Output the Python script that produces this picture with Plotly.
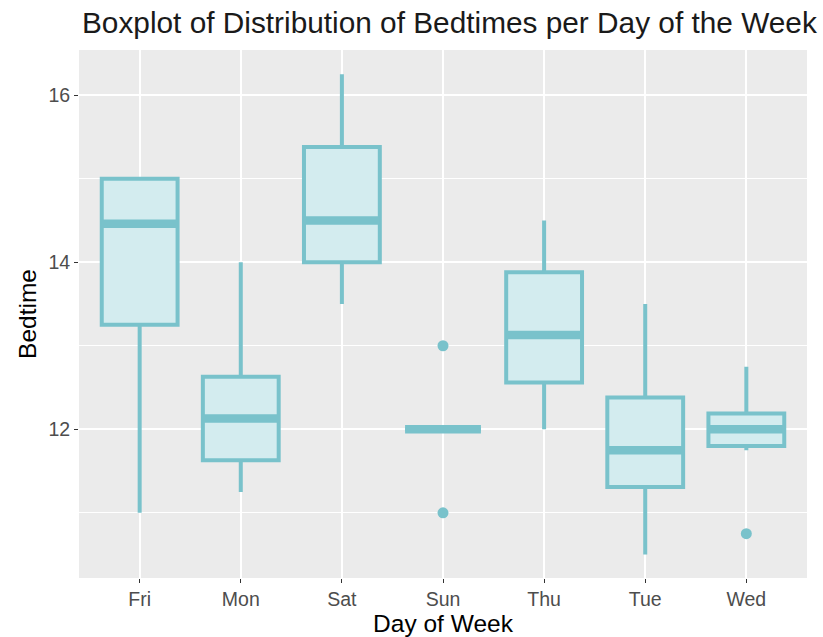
import plotly.graph_objects as go

days = ["Fri", "Mon", "Sat", "Sun", "Thu", "Tue", "Wed"]
lower_whisker = [11.0, 11.25, 13.5, 12.0, 12.0, 10.5, 11.75]
q1 = [13.25, 11.63, 14.0, 12.0, 12.56, 11.31, 11.8]
median = [14.46, 12.13, 14.5, 12.0, 13.13, 11.75, 12.0]
q3 = [15.0, 12.63, 15.38, 12.0, 13.88, 12.38, 12.19]
upper_whisker = [15.0, 14.0, 16.25, 12.0, 14.5, 13.5, 12.75]
outlier_day = ["Sun", "Sun", "Wed"]
outlier_val = [13.0, 11.0, 10.75]

LINE = "#79C2CB"
FILL = "#D3ECEF"
BOXW = 0.75

fig = go.Figure()
pos = list(range(len(days)))
fig.add_trace(go.Box(
    x=pos, q1=q1, median=median, q3=q3,
    lowerfence=lower_whisker, upperfence=upper_whisker,
    width=BOXW, fillcolor=FILL, line=dict(color=LINE, width=4),
    whiskerwidth=0, boxpoints=False, showlegend=False, hoverinfo="skip",
))
# thick median bars (ggplot style)
mx, my = [], []
for i, m in enumerate(median):
    mx += [i - BOXW / 2, i + BOXW / 2, None]
    my += [m, m, None]
fig.add_trace(go.Scatter(x=mx, y=my, mode="lines",
                         line=dict(color=LINE, width=8.5), showlegend=False,
                         hoverinfo="skip"))
fig.add_trace(go.Scatter(
    x=[days.index(d) for d in outlier_day], y=outlier_val, mode="markers",
    marker=dict(color=LINE, size=11), showlegend=False, hoverinfo="skip"))

fig.update_layout(
    width=823, height=637,
    margin=dict(l=79, r=16, t=50, b=59),
    paper_bgcolor="white", plot_bgcolor="#EBEBEB",
    font=dict(family="Liberation Sans, Arial, sans-serif", color="#000000"),
    title=dict(text="Boxplot of Distribution of Bedtimes per Day of the Week",
               x=82 / 823, xanchor="left", xref="container",
               y=1 - 23 / 637, yanchor="middle", yref="container",
               font=dict(size=29.8, color="#1A1A1A")),
)
fig.update_xaxes(
    tickmode="array", tickvals=pos, ticktext=days,
    range=[-0.6, 6.6], showgrid=True, gridcolor="white", gridwidth=1.8,
    zeroline=False, ticks="outside", ticklen=4, tickcolor="#333333", tickwidth=1.2,
    tickfont=dict(size=19.5, color="#4D4D4D"), automargin=False,
    title=dict(text="Day of Week", font=dict(size=24.5, color="#000000"), standoff=2),
)
fig.update_yaxes(
    range=[10.22, 16.54], tick0=12, dtick=2,
    showgrid=True, gridcolor="white", gridwidth=1.8, zeroline=False,
    ticks="outside", ticklen=4, tickcolor="#333333", tickwidth=1.2,
    tickfont=dict(size=19.5, color="#4D4D4D"), automargin=False,
    minor=dict(dtick=1, tick0=11, showgrid=True, gridcolor="white", gridwidth=0.8),
    title=dict(text="Bedtime", font=dict(size=24.5, color="#000000"), standoff=4),
)
fig.write_html("out.html")
